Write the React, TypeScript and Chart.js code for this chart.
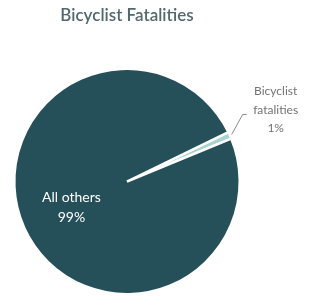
import React, { useEffect, useRef } from "react";
import { Chart, registerables } from "chart.js";

Chart.register(...registerables);

const title = "Bicyclist Fatalities";
const categories = ["Bicyclist fatalities", "All others"];
const labelLines = [["Bicyclist", "fatalities"], ["All others"]];
const values = [1, 99];
const colors = ["#a8d3d0", "#254f59"];

const labelPlugin = {
  id: "sliceLabels",
  afterDraw(chart: any) {
    const ctx = chart.ctx;
    const meta = chart.getDatasetMeta(0);
    ctx.save();
    // title
    ctx.font = "600 17px Lato";
    ctx.fillStyle = "#52686d";
    ctx.textAlign = "center";
    ctx.textBaseline = "middle";
    const cx = (chart.chartArea.left + chart.chartArea.right) / 2;
    ctx.fillText(title, cx, 16);

    meta.data.forEach((arc: any, i: number) => {
      const p = arc.getProps(["x", "y", "startAngle", "endAngle", "outerRadius"], true);
      const mid = (p.startAngle + p.endAngle) / 2;
      const pct = Math.round(values[i]) + "%";
      if (i === 1) {
        const d = p.outerRadius * 0.54;
        const lx = p.x + Math.cos(mid) * d;
        const ly = p.y + Math.sin(mid) * d;
        ctx.fillStyle = "#ffffff";
        ctx.font = "14px Lato";
        ctx.fillText(labelLines[i][0], lx, ly - 9);
        ctx.fillText(pct, lx, ly + 11);
      } else {
        const ex = p.x + Math.cos(mid) * (p.outerRadius + 2);
        const ey = p.y + Math.sin(mid) * (p.outerRadius + 2);
        const kx = ex + 11;
        const ky = ey - 20;
        ctx.strokeStyle = "#8a8a8a";
        ctx.lineWidth = 1;
        ctx.beginPath();
        ctx.moveTo(ex, ey);
        ctx.lineTo(kx, ky);
        ctx.lineTo(kx + 4, ky);
        ctx.stroke();
        ctx.fillStyle = "#737373";
        ctx.font = "12px Lato";
        const tx = kx + 33;
        ctx.fillText(labelLines[i][0], tx, ky - 23);
        ctx.fillText(labelLines[i][1], tx, ky - 4);
        ctx.fillText(pct, tx, ky + 14);
      }
    });
    ctx.restore();
  },
};

export default function App() {
  const ref = useRef<HTMLCanvasElement>(null);
  useEffect(() => {
    document.body.style.margin = "0";
    const chart = new Chart(ref.current!, {
      type: "pie",
      data: {
        labels: categories,
        datasets: [
          {
            data: values,
            backgroundColor: colors,
            borderColor: "#ffffff",
            borderWidth: 2.5,
          },
        ],
      },
      options: {
        animation: false,
        responsive: false,
        rotation: 64,
        layout: { padding: { left: 13, right: 71, top: 67, bottom: 2 } },
        plugins: {
          legend: { display: false },
          title: { display: false },
          tooltip: { enabled: false },
        },
      },
      plugins: [labelPlugin],
    });
    return () => chart.destroy();
  }, []);
  return (
    <div style={{ position: "absolute", left: 0, top: 0, width: 312, height: 298, background: "#fff" }}>
      <canvas ref={ref} width={312} height={298} style={{ width: 312, height: 298 }} />
    </div>
  );
}
